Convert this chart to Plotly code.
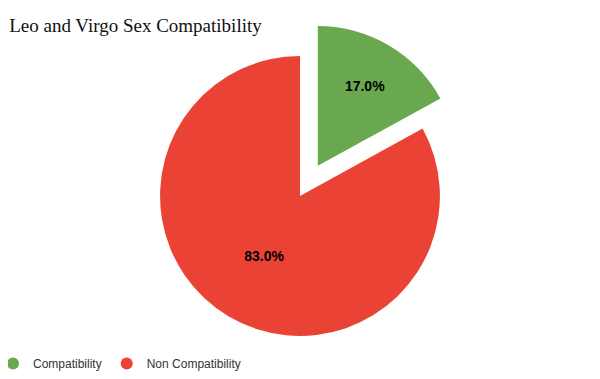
import plotly.graph_objects as go

labels = ["Compatibility", "Non Compatibility"]
values = [17.0, 83.0]
colors = ["#6aa84f", "#ea4335"]
pulls = [0.25, 0]

fig = go.Figure()
fig.add_trace(go.Pie(
    labels=labels, values=values, sort=False, direction="clockwise", rotation=0,
    pull=pulls, marker=dict(colors=colors, line=dict(width=0)),
    texttemplate="%{percent:.1%}", textposition="inside",
    insidetextfont=dict(family="Arial", size=14, color="black", weight="bold"),
    showlegend=False, hoverinfo="label+percent",
    domain=dict(x=[0, 0.9733], y=[0.0425, 0.9655]),
))
for lab, col in zip(labels, colors):
    fig.add_trace(go.Scatter(
        x=[None], y=[None], mode="markers", name=lab,
        marker=dict(symbol="circle", size=12, color=col),
    ))

fig.update_layout(
    width=600, height=379,
    margin=dict(l=0, r=0, t=0, b=0, autoexpand=False),
    paper_bgcolor="white", plot_bgcolor="white",
    title=dict(text="Leo and Virgo Sex Compatibility", x=0.002, xanchor="left",
               y=0.973, yanchor="top",
               font=dict(family="Liberation Serif", size=19, color="#111")),
    xaxis=dict(visible=False), yaxis=dict(visible=False),
    legend=dict(orientation="h", x=-0.025, xanchor="left", y=0.024, yanchor="bottom",
                font=dict(family="Arial", size=12, color="#333"),
                itemwidth=30, tracegroupgap=0),
)
fig.write_html("out.html")
